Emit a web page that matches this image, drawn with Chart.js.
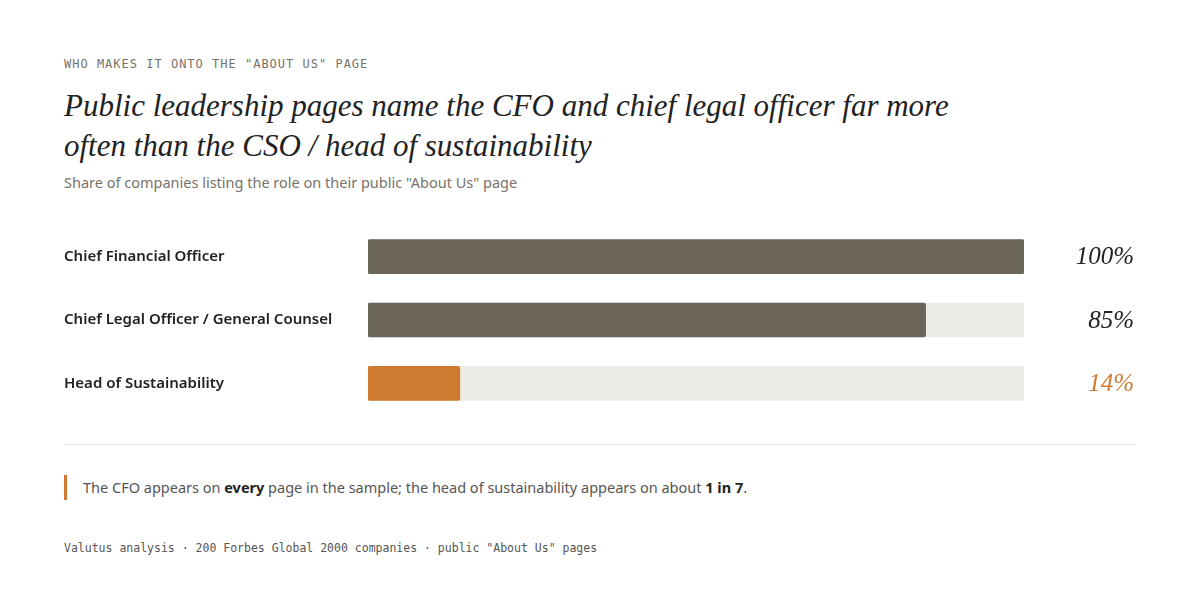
<!DOCTYPE html>
<html>
<head>
<meta charset="utf-8">
<script src="https://cdn.jsdelivr.net/npm/chart.js@4"></script>
<style>
  body { margin: 0; background: #fff; width: 1200px; height: 609px; position: relative; overflow: hidden; }
  .eyebrow { position: absolute; left: 64px; top: 57px; font: 12px "DejaVu Sans Mono", monospace; letter-spacing: 1px; color: #77736a; }
  h1 { position: absolute; left: 64px; top: 86px; width: 935px; margin: 0; font: italic 31px/40px "Liberation Serif", serif; color: #222; }
  .sub { position: absolute; left: 64px; top: 172px; font: 14.5px "Noto Sans", sans-serif; color: #77736a; }
  #wrap { position: absolute; left: 64px; top: 216px; width: 1072px; height: 208px; }
  .rule { position: absolute; left: 64px; top: 444px; width: 1072px; height: 1px; background: #e6e3dd; }
  .note { position: absolute; left: 64px; top: 475px; height: 25px; border-left: 3px solid #cf7a31; padding-left: 16px; font: 14.5px/25px "Noto Sans", sans-serif; color: #555; }
  .note b { color: #222; }
  .foot { position: absolute; left: 64px; top: 541px; font: 11.5px "DejaVu Sans Mono", monospace; color: #555; }
</style>
</head>
<body>
<div class="eyebrow">WHO MAKES IT ONTO THE "ABOUT US" PAGE</div>
<h1>Public leadership pages name the CFO and chief legal officer far more often than the CSO / head of sustainability</h1>
<div class="sub">Share of companies listing the role on their public "About Us" page</div>
<div id="wrap"><canvas id="chart"></canvas></div>
<div class="rule"></div>
<div class="note">The CFO appears on <b>every</b> page in the sample; the head of sustainability appears on about <b>1 in 7</b>.</div>
<div class="foot">Valutus analysis · 200 Forbes Global 2000 companies · public "About Us" pages</div>
<script>
const roles = ["Chief Financial Officer", "Chief Legal Officer / General Counsel", "Head of Sustainability"];
const shares = [100, 85, 14];
const track = [100, 100, 100];
const barColors = ["#6a6558", "#6a6558", "#cf7a31"];
const valueColors = ["#222222", "#222222", "#cf7a31"];

const valueLabels = {
  id: "valueLabels",
  afterDatasetsDraw(chart) {
    const { ctx, scales: { y } } = chart;
    ctx.save();
    ctx.font = "italic 25px 'Liberation Serif', serif";
    ctx.textAlign = "right";
    ctx.textBaseline = "middle";
    shares.forEach((v, i) => {
      ctx.fillStyle = valueColors[i];
      ctx.fillText(v + "%", chart.width - 2, y.getPixelForValue(i) + 1);
    });
    ctx.restore();
  }
};

new Chart(document.getElementById("chart"), {
  type: "bar",
  data: {
    labels: roles,
    datasets: [
      { data: shares, backgroundColor: barColors, barThickness: 34, borderRadius: 2, borderSkipped: false, order: 1 },
      { data: track, backgroundColor: "#edebe5", barThickness: 34, borderRadius: 2, borderSkipped: false, order: 2 }
    ]
  },
  options: {
    indexAxis: "y",
    responsive: true,
    maintainAspectRatio: false,
    animation: false,
    layout: { padding: { right: 112 } },
    plugins: { legend: { display: false }, tooltip: { enabled: false } },
    datasets: { bar: { grouped: false } },
    scales: {
      x: { min: 0, max: 100, display: false },
      y: {
        grid: { display: false },
        border: { display: false },
        afterFit(s) { s.width = 304; },
        ticks: { crossAlign: "far", color: "#222", padding: 0, font: { family: "Noto Sans", size: 15, weight: "600" } }
      }
    }
  },
  plugins: [valueLabels]
});
</script>
</body>
</html>
